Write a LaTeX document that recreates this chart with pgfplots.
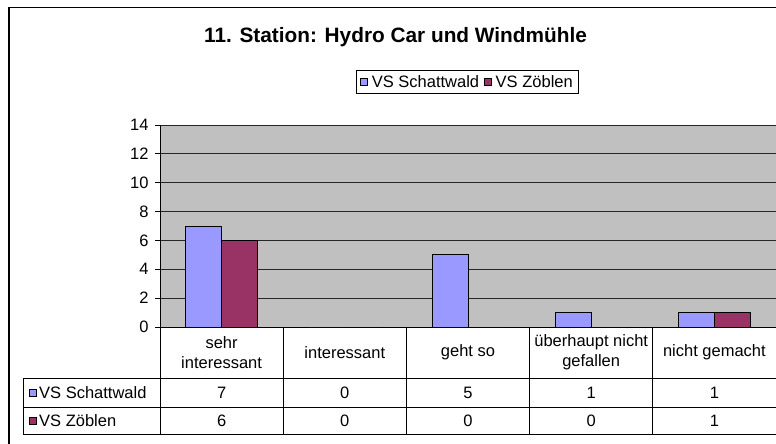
\documentclass[border=0pt]{standalone}
\usepackage{fontspec}
\setmainfont{Liberation Sans}
\usepackage{pgfplots}
\pgfplotsset{compat=1.18}
\usepackage{pgfplotstable}
\definecolor{sblue}{HTML}{9999FF}
\definecolor{sred}{HTML}{993366}
\definecolor{plotgrey}{HTML}{C0C0C0}
\newcommand{\tf}{\fontsize{16.5}{20}\selectfont}

\pgfplotstableread{
x a b
0 7 6
1 0 0
2 5 0
3 1 0
4 1 1
}\datatable

\begin{document}
\begin{tikzpicture}[x=1pt,y=1pt]
\useasboundingbox (0,0) rectangle (776,-444);
\fill[white] (0,0) rectangle (776,-444);
\draw[line width=1.4pt] (9,-7.5) rectangle (800,-470);
\node[font=\fontsize{20.8}{24}\selectfont\bfseries] at (395.5,-37) {11. Station: Hydro Car und Windmühle};
\begin{axis}[
  at={(160pt,-327pt)}, anchor=south west,
  scale only axis, width=616pt, height=202pt,
  xmin=-0.5, xmax=4.5, ymin=0, ymax=14,
  ytick={0,2,...,14}, xtick=\empty,
  ymajorgrids, grid style={black!85, line width=0.8pt},
  axis background/.style={fill=plotgrey},
  axis x line*=bottom, axis y line*=left,
  axis line style={black, line width=0.8pt, -},
  y tick style={black, line width=0.8pt},
  tick align=outside, major tick length=5pt,
  yticklabel style={font=\tf, xshift=-3pt, /pgf/number format/assume math mode=true},
  ybar=0pt, bar width=36pt,
  clip=false,
  legend columns=2,
  legend style={at={(0.4992,1.2129)}, anchor=center, draw=black, line width=0.8pt,
    font=\tf, inner xsep=4pt, inner ysep=3pt,
    /tikz/every odd column/.append style={column sep=2pt},
    /tikz/every even column/.append style={column sep=3pt}},
  legend image code/.code={\draw[#1, line width=0.6pt] (0pt,-3.5pt) rectangle (7pt,3.5pt);},
]
\addplot[fill=sblue, draw=black, line width=0.8pt] table[x=x,y=a]{\datatable};
\addplot[fill=sred, draw=black, line width=0.8pt] table[x=x,y=b]{\datatable};
\legend{VS Schattwald, VS Zöblen}
\end{axis}
% data table
\begin{scope}[line width=0.8pt]
\draw (23,-378) -- (776,-378);
\draw (23,-407) -- (776,-407);
\draw (23,-434) -- (776,-434);
\draw (23,-378) -- (23,-434);
\foreach \xx in {160,283.2,406.4,529.6,652.8} \draw (\xx,-327) -- (\xx,-434);
\end{scope}
\begin{scope}[every node/.style={font=\tf, align=center, inner sep=0pt}]
\node[align=center] at (221.6,-352.5) {sehr\\interessant};
\node at (344.8,-352.5) {interessant};
\node at (468,-352.5) {geht so};
\node[align=center] at (591.2,-352.5) {überhaupt nicht\\gefallen};
\node at (714.4,-352.5) {nicht gemacht};
\foreach \xx/\va/\vb in {221.6/7/6, 344.8/0/0, 468/5/0, 591.2/1/0, 714.4/1/1}{
  \node at (\xx,-392.5) {\va};
  \node at (\xx,-420.5) {\vb};
}
\node[anchor=west] at (39,-392.5) {VS Schattwald};
\node[anchor=west] at (39,-420.5) {VS Zöblen};
\end{scope}
\draw[fill=sblue, line width=0.6pt] (29,-389.5) rectangle (36,-396.5);
\draw[fill=sred, line width=0.6pt] (29,-417.5) rectangle (36,-424.5);
\end{tikzpicture}
\end{document}
